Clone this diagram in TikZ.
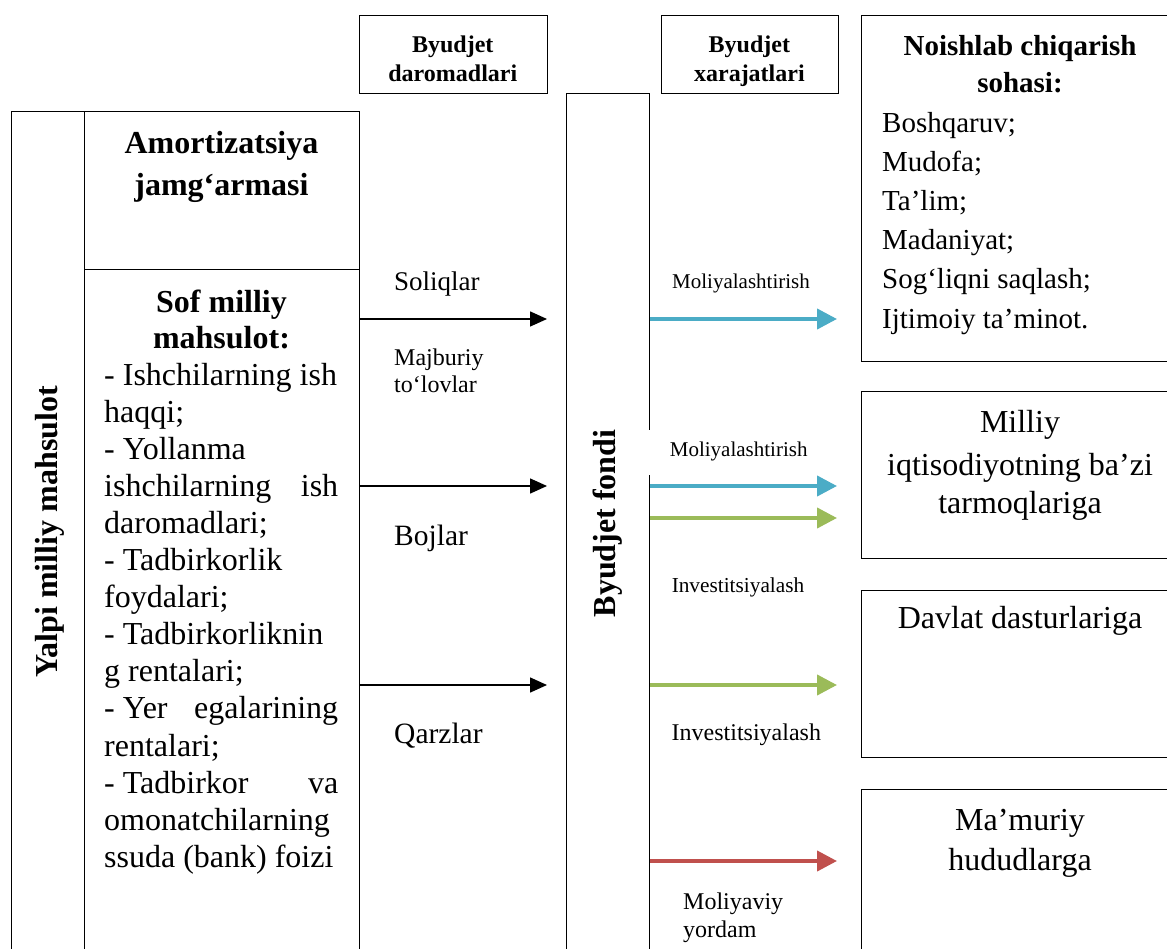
\documentclass[tikz,border=0pt]{standalone}
\usepackage{fontspec}
\setmainfont{Liberation Serif}
\usetikzlibrary{arrows.meta}
\definecolor{arrblue}{HTML}{4BACC6}
\definecolor{arrgreen}{HTML}{9BBB59}
\definecolor{arrred}{HTML}{C0504D}
\newcommand{\fsz}[1]{\fontsize{#1}{#1}\selectfont}
\begin{document}
\begin{tikzpicture}[x=1pt,y=-1pt,
  box/.style={draw, line width=1.3pt, inner sep=0pt, anchor=north west},
  lbl/.style={inner sep=0pt, anchor=mid west, yshift=-8pt},
  ctr/.style={inner sep=0pt, anchor=mid, yshift=-8pt},
  vt/.style={inner sep=0pt, anchor=mid, rotate=90, font=\fsz{32}\bfseries},
  blk/.style={line width=1.5pt, -{Triangle[length=17pt,width=15pt]}},
  fat/.style={line width=4pt, -{Triangle[length=20pt,width=20pt]}}]
\useasboundingbox (0,0) rectangle (1167,949);
\clip (0,0) rectangle (1167,949);
\fill[white] (0,0) rectangle (1167,949);
% boxes
\node[box, minimum width=73.3pt, minimum height=860pt] (yalpi) at (10.7,111) {};
\node[box, minimum width=275pt, minimum height=158pt] (amort) at (84,111) {};
\node[box, minimum width=275pt, minimum height=700pt] (sof) at (84,269) {};
\node[box, minimum width=188.4pt, minimum height=78pt] (darom) at (358.6,15) {};
\node[box, minimum width=83pt, minimum height=880pt] (fondi) at (566,93) {};
\node[box, minimum width=177.3pt, minimum height=78pt] (xaraj) at (660.7,15) {};
\node[box, minimum width=330pt, minimum height=346pt] (noish) at (861,15) {};
\node[box, minimum width=330pt, minimum height=166.7pt] (milliy) at (861,391) {};
\node[box, minimum width=330pt, minimum height=167pt] (davlat) at (861,590) {};
\node[box, minimum width=330pt, minimum height=200pt] (mamur) at (861,789) {};
% header texts
\node[ctr, font=\fsz{24}\bfseries] (d1) at (452.8,42) {Byudjet};
\node[ctr, font=\fsz{24}\bfseries] (d2) at (452.8,71) {daromadlari};
\node[ctr, font=\fsz{24}\bfseries] (x1) at (749.4,42) {Byudjet};
\node[ctr, font=\fsz{24}\bfseries] (x2) at (749.4,71) {xarajatlari};
% vertical titles
\node[vt] (yalpit) at (55,532) {Yalpi milliy mahsulot};
\node[vt] (fondit) at (613,523.5) {Byudjet fondi};
% amortizatsiya
\node[ctr, font=\fsz{32}\bfseries] (am1) at (221.5,143) {Amortizatsiya};
\node[ctr, font=\fsz{32}\bfseries] (am2) at (221.5,185) {jamg‘armasi};
% sof milliy
\node[ctr, font=\fsz{32}\bfseries] (sm1) at (221.5,302) {Sof milliy};
\node[ctr, font=\fsz{32}\bfseries] (sm2) at (221.5,338) {mahsulot:};
\begin{scope}[every node/.style={lbl, font=\fsz{32}}]
\node (l1) at (104,375) {- Ishchilarning ish};
\node (l2) at (104,412) {haqqi;};
\node (l3) at (104,449) {- Yollanma};
\node (l4) at (104,486) {\makebox[234pt][l]{ishchilarning\hfill ish}};
\node (l5) at (104,523) {daromadlari;};
\node (l6) at (104,560) {- Tadbirkorlik};
\node (l7) at (104,597.5) {foydalari;};
\node (l8) at (104,634.6) {- Tadbirkorliknin};
\node (l9) at (104,671.6) {g rentalari;};
\node (l10) at (104,708.7) {\makebox[234pt][l]{- Yer\hfill egalarining}};
\node (l11) at (104,745.8) {rentalari;};
\node (l12) at (104,782.9) {\makebox[234pt][l]{- Tadbirkor\hfill va}};
\node (l13) at (104,820) {omonatchilarning};
\node (l14) at (104,857) {ssuda (bank) foizi};
\end{scope}
% left flow labels
\node[lbl, font=\fsz{27}] (sol) at (394,280) {Soliqlar};
\node[lbl, font=\fsz{24}] (maj1) at (394,355) {Majburiy};
\node[lbl, font=\fsz{24}] (maj2) at (394,382) {to‘lovlar};
\node[lbl, font=\fsz{29.5}] (boj) at (394,535) {Bojlar};
\node[lbl, font=\fsz{29.5}] (qarz) at (394,733) {Qarzlar};
% black arrows
\coordinate (a1s) at (sof.east |- 0,319);
\coordinate (a1e) at (547,319);
\coordinate (a2s) at (sof.east |- 0,486);
\coordinate (a2e) at (547,486);
\coordinate (a3s) at (sof.east |- 0,685);
\coordinate (a3e) at (547,685);
\draw[blk] (a1s) -- (a1e);
\draw[blk] (a2s) -- (a2e);
\draw[blk] (a3s) -- (a3e);
% right labels
\node[ctr, font=\fsz{21}] (mol1) at (741,278) {Moliyalashtirish};
\node[inner sep=0pt, fill=white, anchor=west, minimum width=180pt, minimum height=45pt, text depth=6pt, font=\fsz{21}] (mol2) at (648.5,452.5) {Moliyalashtirish};
\node[ctr, font=\fsz{21.3}] (inv1) at (738,582) {Investitsiyalash};
\node[lbl, font=\fsz{24}] (inv2) at (671.5,730) {Investitsiyalash};
\node[lbl, font=\fsz{24}] (my1) at (683,899) {Moliyaviy};
\node[lbl, font=\fsz{24}] (my2) at (683,927) {yordam};
% coloured arrows
\coordinate (b1s) at (fondi.east |- 0,319);
\coordinate (b1e) at (837,319);
\coordinate (b2s) at (fondi.east |- 0,486);
\coordinate (b2e) at (837,486);
\coordinate (g1s) at (fondi.east |- 0,518);
\coordinate (g1e) at (837,518);
\coordinate (g2s) at (fondi.east |- 0,685);
\coordinate (g2e) at (837,685);
\coordinate (r1s) at (fondi.east |- 0,861);
\coordinate (r1e) at (837,861);
\draw[fat, arrblue] (b1s) -- (b1e);
\draw[fat, arrblue] (b2s) -- (b2e);
\draw[fat, arrgreen] (g1s) -- (g1e);
\draw[fat, arrgreen] (g2s) -- (g2e);
\draw[fat, arrred] (r1s) -- (r1e);
% noishlab
\node[ctr, font=\fsz{29}\bfseries] (n1) at (1020,45) {Noishlab chiqarish};
\node[ctr, font=\fsz{29}\bfseries] (n2) at (1020,82) {sohasi:};
\begin{scope}[every node/.style={lbl, font=\fsz{29}}]
\node (n3) at (882,122) {Boshqaruv;};
\node (n4) at (882,161) {Mudofa;};
\node (n5) at (882,200) {Ta’lim;};
\node (n6) at (882,239) {Madaniyat;};
\node (n7) at (882,278) {Sog‘liqni saqlash;};
\node (n8) at (882,318) {Ijtimoiy ta’minot.};
\end{scope}
% right boxes texts
\begin{scope}[every node/.style={ctr, font=\fsz{32}}]
\node (mi1) at (1020,422) {Milliy};
\node (mi2) at (1020,465) {iqtisodiyotning ba’zi};
\node (mi3) at (1020,503) {tarmoqlariga};
\node (dv1) at (1020,618) {Davlat dasturlariga};
\node (ma1) at (1020,820) {Ma’muriy};
\node (ma2) at (1020,860) {hududlarga};
\end{scope}
\end{tikzpicture}
\end{document}
